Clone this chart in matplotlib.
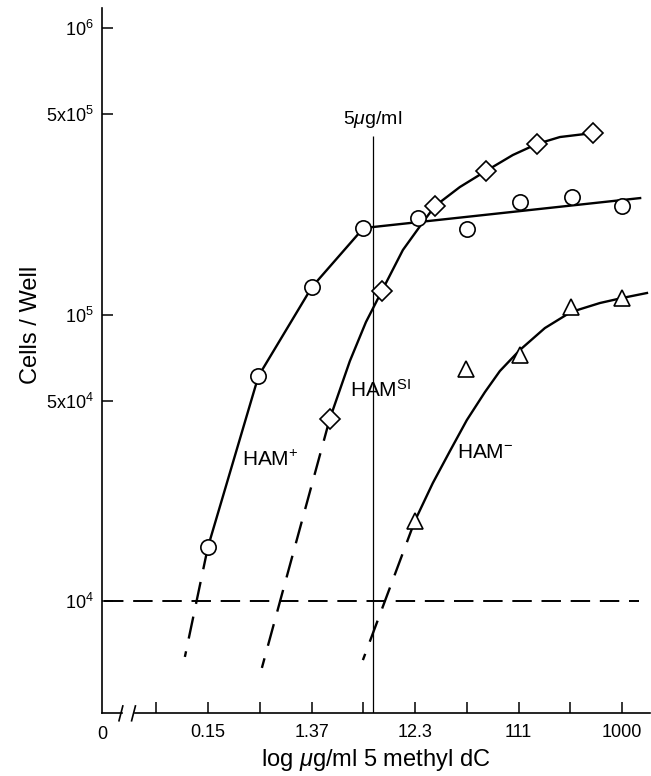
import matplotlib
matplotlib.use("Agg")
import matplotlib.pyplot as plt

plt.rcParams["font.family"] = "Liberation Sans"
plt.rcParams["mathtext.fontset"] = "custom"
plt.rcParams["mathtext.rm"] = "Liberation Sans"
plt.rcParams["mathtext.it"] = "Liberation Sans:italic"
plt.rcParams["mathtext.default"] = "regular"

# HAM+ (circles)
ham_plus_x = [0.15, 0.44, 1.37, 4.1, 13.0, 37, 114, 344, 1000]
ham_plus_y = [15400, 61000, 124700, 200400, 217000, 198600, 247000, 257000, 239000]
ham_plus_fit_x = [0.15, 0.44, 1.37, 4.1, 1470]
ham_plus_fit_y = [15400, 61000, 124700, 200400, 255000]
ham_plus_ext_x = [0.15, 0.092]
ham_plus_ext_y = [15400, 6380]

# HAM^SI (diamonds)
ham_si_x = [2.0, 6.1, 18.7, 55, 164, 540]
ham_si_y = [43200, 120800, 239000, 317000, 394000, 430000]
ham_si_fit_x = [2.0, 3.07, 4.32, 6.06, 9.48, 14.5, 18.7, 31.8, 55.4, 98.2, 164, 267, 538]
ham_si_fit_y = [43150, 68800, 94100, 120800, 168000, 210000, 239000, 278600, 317000,
                360500, 394000, 416500, 430000]
ham_si_ext_x = [2.0, 0.473]
ham_si_ext_y = [43150, 5840]

# HAM- (triangles)
ham_minus_x = [12.2, 36, 114, 337, 1000]
ham_minus_y = [19000, 64500, 72200, 106000, 114300]
ham_minus_fit_x = [12.2, 17.9, 25.8, 36.9, 54.2, 74.5, 114, 194, 337, 625, 1000, 1700]
ham_minus_fit_y = [19000, 25800, 33400, 42800, 53600, 63500, 75200, 89700, 102000,
                   109700, 114200, 118900]
ham_minus_ext_x = [12.2, 4.05]
ham_minus_ext_y = [19000, 6220]

x_ticks = [0.15, 1.37, 12.3, 111, 1000]
x_tick_labels = ["0.15", "1.37", "12.3", "111", "1000"]
x_minor = [0.05, 0.45, 4.1, 37, 333]
y_ticks = [1e4, 5e4, 1e5, 5e5, 1e6]
y_tick_labels = ["$10^4$", "5x$10^4$", "$10^5$", "5x$10^5$", "$10^6$"]
threshold = 1e4
dose_line = 5

fig = plt.figure(figsize=(6.51, 7.76), dpi=100)
ax = fig.add_axes([102 / 651, 63 / 776, 548 / 651, 705 / 776])
ax.set_xscale("log")
ax.set_yscale("log")
ax.set_xlim(0.0158, 1813)
ax.set_ylim(4065, 1.175e6)

lw = 1.7
ext_dash = (0, (9.5, 5.5))
for fx, fy, ex, ey in [
    (ham_plus_fit_x, ham_plus_fit_y, ham_plus_ext_x, ham_plus_ext_y),
    (ham_si_fit_x, ham_si_fit_y, ham_si_ext_x, ham_si_ext_y),
    (ham_minus_fit_x, ham_minus_fit_y, ham_minus_ext_x, ham_minus_ext_y),
]:
    ax.plot(fx, fy, color="black", lw=lw, zorder=2)
    ax.plot(ex, ey, color="black", lw=lw, linestyle=ext_dash, zorder=2)

ax.axhline(threshold, xmin=0.004, xmax=0.98, color="black", lw=1.4,
           linestyle=(0, (10, 5)), zorder=1)
ax.vlines(dose_line, 4065, 420000, color="black", lw=0.9, zorder=1)

mk = dict(color="white", markeredgecolor="black", markeredgewidth=1.2, linestyle="none", zorder=3)
ax.plot(ham_plus_x, ham_plus_y, marker="o", markersize=11, **mk)
ax.plot(ham_si_x, ham_si_y, marker="D", markersize=10.5, **mk)
ax.plot(ham_minus_x, ham_minus_y, marker="^", markersize=12, **mk)

ax.text(dose_line, 478000, r"5$\mathit{\mu}$g/ml", ha="center", va="center", fontsize=14)
ax.text(0.309, 31000, "HAM$^{+}$", ha="left", va="center", fontsize=15)
ax.text(3.07, 54500, "HAM$^{SI}$", ha="left", va="center", fontsize=15)
ax.text(29.9, 33100, "HAM$^{-}$", ha="left", va="center", fontsize=15)

# axes styling
ax.spines["top"].set_visible(False)
ax.spines["right"].set_visible(False)
ax.spines["bottom"].set_visible(False)
ax.spines["left"].set_linewidth(1.2)

ax.set_xticks(x_ticks)
ax.set_xticklabels(x_tick_labels)
ax.set_xticks(x_minor, minor=True)
ax.set_yticks(y_ticks)
ax.set_yticklabels(y_tick_labels)
ax.yaxis.set_minor_locator(matplotlib.ticker.NullLocator())
ax.xaxis.set_minor_formatter(matplotlib.ticker.NullFormatter())
ax.tick_params(axis="both", which="both", direction="in", length=8, width=1.1,
               labelsize=13, pad=6)
ax.tick_params(axis="x", which="both", pad=8)

# broken x axis
bx = dict(color="black", lw=1.2, transform=ax.transAxes, clip_on=False)
ax.plot([0, 0.036], [0, 0], **bx)
ax.plot([0.06, 1.0], [0, 0], **bx)
ax.plot([0.031, 0.038], [-0.011, 0.010], **bx)
ax.plot([0.054, 0.061], [-0.011, 0.010], **bx)
ax.text(0.0, -0.018, "0", transform=ax.transAxes, ha="center", va="top", fontsize=13)

ax.set_xlabel(r"log $\mathit{\mu}$g/ml 5 methyl dC", fontsize=17, labelpad=4)
ax.set_ylabel("Cells / Well", fontsize=17)
ax.yaxis.set_label_coords(-0.11, 0.55)

fig.savefig("out.png", dpi=100)
